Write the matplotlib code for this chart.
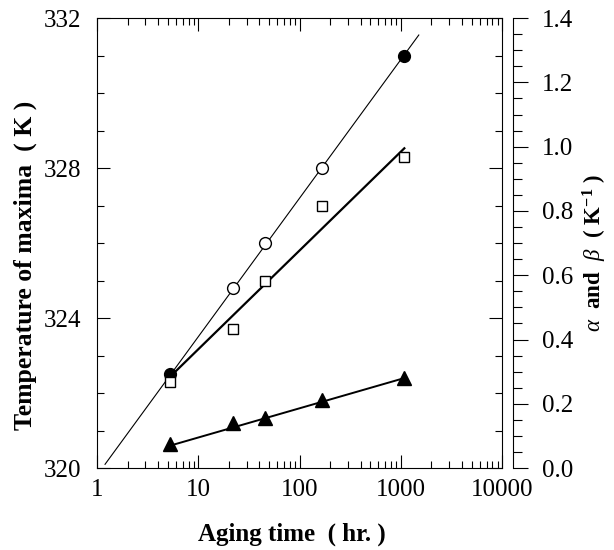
#!/usr/bin/env python3
import matplotlib
matplotlib.use('Agg')
import matplotlib.pyplot as plt
from matplotlib.ticker import FixedLocator, MultipleLocator, LogLocator, NullFormatter

plt.rcParams.update({
    'font.family': 'Liberation Serif',
    'mathtext.fontset': 'custom',
    'mathtext.rm': 'Liberation Serif',
    'mathtext.it': 'Liberation Serif:italic',
    'mathtext.bf': 'Liberation Serif:bold',
    'font.size': 14,
})

# Aging times (hr)
aging_time = [5.3, 22, 46, 168, 1080]

# Temperature of maxima (K), circles; first and last drawn filled
temp_max = [322.5, 324.8, 326.0, 328.0, 331.0]
temp_filled = [True, False, False, False, True]

# alpha (squares) and beta (triangles), K^-1, right axis
alpha_vals = [0.268, 0.432, 0.583, 0.817, 0.968]
beta_vals = [0.075, 0.139, 0.157, 0.211, 0.279]

# fitted straight lines (end points)
temp_fit_x = [1.2, 1500]
temp_fit_y = [320.1, 331.55]
alpha_fit_x = [5.3, 1080]
alpha_fit_y = [0.285, 0.995]
beta_fit_x = [5.3, 1080]
beta_fit_y = [0.07, 0.28]

x_ticks = [1, 10, 100, 1000, 10000]
left_ticks = [320, 324, 328, 332]
right_ticks = [0.0, 0.2, 0.4, 0.6, 0.8, 1.0, 1.2, 1.4]

fig = plt.figure(figsize=(6.14, 5.5), dpi=100)
ax = fig.add_axes([0.158, 0.149, 0.660, 0.818])
ax2 = ax.twinx()

# left axis: temperature
ax.plot(temp_fit_x, temp_fit_y, color='black', lw=0.8, zorder=2)
for x, y, f in zip(aging_time, temp_max, temp_filled):
    ax.plot(x, y, 'o', ms=8.5, mec='black', mew=1.0,
            mfc='black' if f else 'white', zorder=3)

# right axis: alpha and beta
ax2.plot(alpha_fit_x, alpha_fit_y, color='black', lw=1.6, zorder=2)
ax2.plot(aging_time, alpha_vals, 's', ms=7.5, mec='black', mew=1.0, mfc='white', zorder=3)
ax2.plot(beta_fit_x, beta_fit_y, color='black', lw=1.4, zorder=2)
ax2.plot(aging_time, beta_vals, '^', ms=9.5, mec='black', mfc='black', zorder=3)

ax.set_xscale('log')
ax.set_xlim(1, 10000)
ax.set_ylim(320, 332)
ax2.set_ylim(0, 1.4)

ax.xaxis.set_major_locator(FixedLocator(x_ticks))
ax.set_xticklabels([str(t) for t in x_ticks])
ax.xaxis.set_minor_locator(LogLocator(base=10, subs=range(2, 10)))
ax.xaxis.set_minor_formatter(NullFormatter())
ax.yaxis.set_major_locator(FixedLocator(left_ticks))
ax.yaxis.set_minor_locator(MultipleLocator(1))
ax2.yaxis.set_major_locator(FixedLocator(right_ticks))
ax2.set_yticklabels([f'{t:.1f}' for t in right_ticks])
ax2.yaxis.set_minor_locator(MultipleLocator(0.05))

ax.tick_params(which='both', direction='in', top=True, right=True, left=True, bottom=True,
               labelright=False, width=0.8)
ax.tick_params(which='major', length=9.5, labelsize=18)
ax.tick_params(axis='y', which='major', pad=11)
ax.tick_params(axis='x', which='major', pad=8)
ax.tick_params(which='minor', length=5)

ax2.spines['right'].set_position(('outward', 8))
for s in ['left', 'top', 'bottom']:
    ax2.spines[s].set_visible(False)
ax2.tick_params(which='both', direction='out', width=0.8)
ax2.tick_params(which='major', length=10.8, labelsize=18, pad=10)
ax2.tick_params(which='minor', length=6.5)

for s in ax.spines.values():
    s.set_linewidth(0.8)
ax2.spines['right'].set_linewidth(0.8)

ax.set_xlabel('Aging time  ( hr. )', fontsize=18, fontweight='bold')
ax.xaxis.set_label_coords(0.48, -0.122)
ax.set_ylabel('Temperature of maxima  ( K )', fontsize=18.5, fontweight='bold')
ax.yaxis.set_label_coords(-0.148, 0.45)
ax2.set_ylabel(r'$\alpha$  and  $\beta$  ( K$^{\mathbf{-1}}$ )', fontsize=16.5,
               fontweight='bold', rotation=90)
ax2.yaxis.set_label_coords(1.195, 0.478)

fig.savefig('out.png', dpi=100)
